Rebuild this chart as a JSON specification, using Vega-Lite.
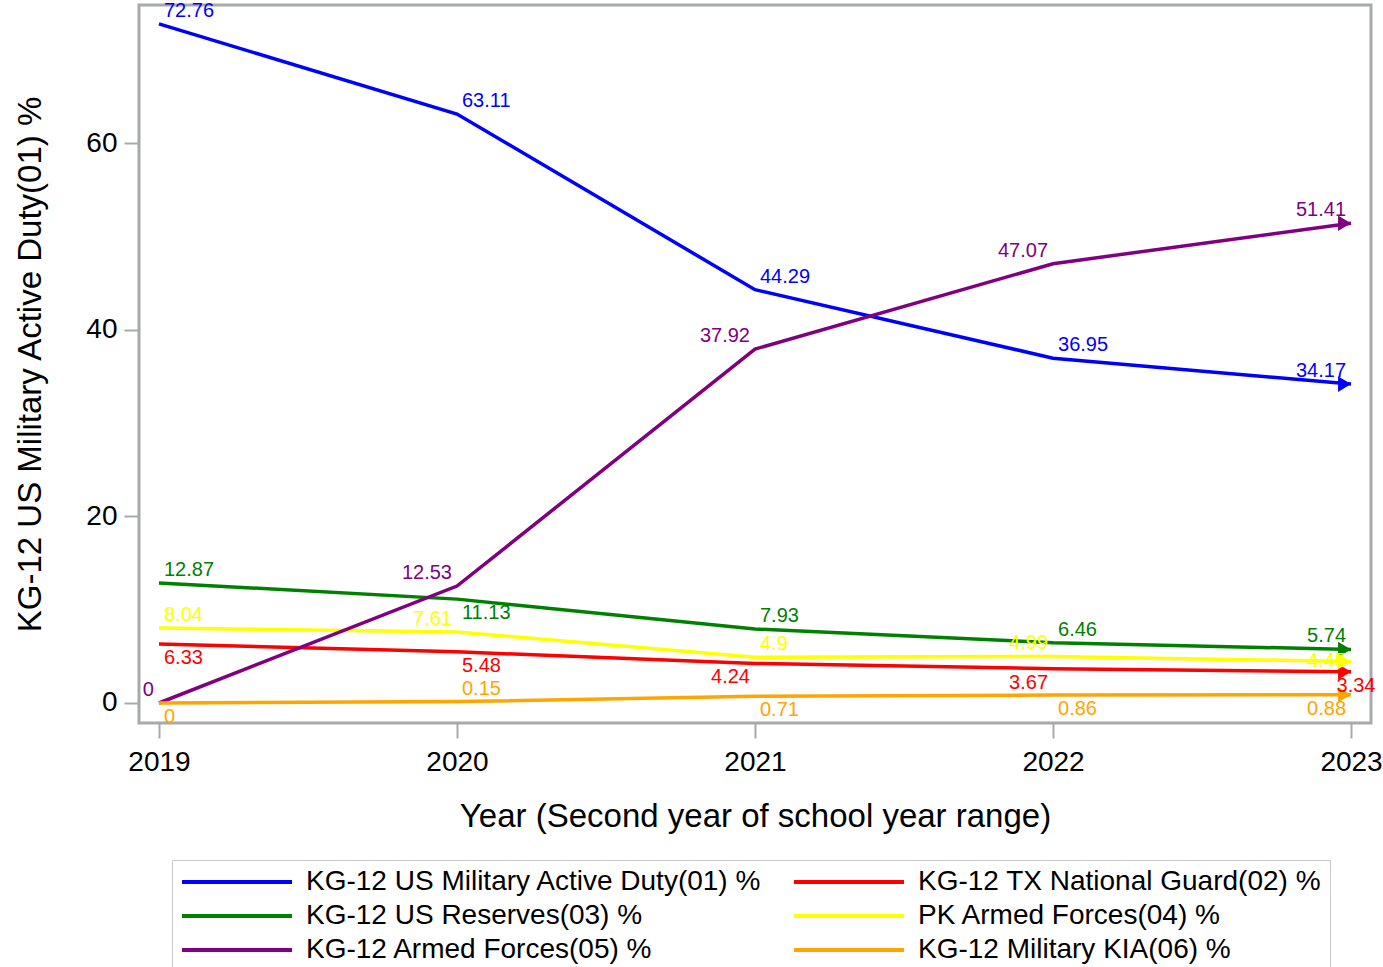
{
  "$schema": "https://vega.github.io/schema/vega-lite/v6.json",
  "width": 1232,
  "height": 718,
  "autosize": {"type": "none"},
  "padding": {"left": 139, "top": 5, "right": 12, "bottom": 244},
  "background": "white",
  "config": {
    "font": "Liberation Sans",
    "view": {"stroke": "#a6aaae", "strokeWidth": 3},
    "axis": {"domain": false, "grid": false, "tickColor": "#a6aaae", "tickWidth": 2, "tickSize": 15, "labelFontSize": 28, "labelColor": "#000000", "titleFontSize": 33, "titleFontWeight": "normal", "titleColor": "#000000", "labelFont": "Liberation Sans", "titleFont": "Liberation Sans"}
  },
  "data": {
    "values": [
      {"series": "KG-12 US Military Active Duty(01) %", "year": 2019, "value": 72.76},
      {"series": "KG-12 US Military Active Duty(01) %", "year": 2020, "value": 63.11},
      {"series": "KG-12 US Military Active Duty(01) %", "year": 2021, "value": 44.29},
      {"series": "KG-12 US Military Active Duty(01) %", "year": 2022, "value": 36.95},
      {"series": "KG-12 US Military Active Duty(01) %", "year": 2023, "value": 34.17},
      {"series": "KG-12 TX National Guard(02) %", "year": 2019, "value": 6.33},
      {"series": "KG-12 TX National Guard(02) %", "year": 2020, "value": 5.48},
      {"series": "KG-12 TX National Guard(02) %", "year": 2021, "value": 4.24},
      {"series": "KG-12 TX National Guard(02) %", "year": 2022, "value": 3.67},
      {"series": "KG-12 TX National Guard(02) %", "year": 2023, "value": 3.34},
      {"series": "KG-12 US Reserves(03) %", "year": 2019, "value": 12.87},
      {"series": "KG-12 US Reserves(03) %", "year": 2020, "value": 11.13},
      {"series": "KG-12 US Reserves(03) %", "year": 2021, "value": 7.93},
      {"series": "KG-12 US Reserves(03) %", "year": 2022, "value": 6.46},
      {"series": "KG-12 US Reserves(03) %", "year": 2023, "value": 5.74},
      {"series": "PK Armed Forces(04) %", "year": 2019, "value": 8.04},
      {"series": "PK Armed Forces(04) %", "year": 2020, "value": 7.61},
      {"series": "PK Armed Forces(04) %", "year": 2021, "value": 4.9},
      {"series": "PK Armed Forces(04) %", "year": 2022, "value": 4.99},
      {"series": "PK Armed Forces(04) %", "year": 2023, "value": 4.45},
      {"series": "KG-12 Armed Forces(05) %", "year": 2019, "value": 0},
      {"series": "KG-12 Armed Forces(05) %", "year": 2020, "value": 12.53},
      {"series": "KG-12 Armed Forces(05) %", "year": 2021, "value": 37.92},
      {"series": "KG-12 Armed Forces(05) %", "year": 2022, "value": 47.07},
      {"series": "KG-12 Armed Forces(05) %", "year": 2023, "value": 51.41},
      {"series": "KG-12 Military KIA(06) %", "year": 2019, "value": 0},
      {"series": "KG-12 Military KIA(06) %", "year": 2020, "value": 0.15},
      {"series": "KG-12 Military KIA(06) %", "year": 2021, "value": 0.71},
      {"series": "KG-12 Military KIA(06) %", "year": 2022, "value": 0.86},
      {"series": "KG-12 Military KIA(06) %", "year": 2023, "value": 0.88}
    ]
  },
  "encoding": {
    "x": {
      "field": "year", "type": "quantitative",
      "scale": {"domain": [2018.933, 2023.067], "nice": false, "zero": false},
      "axis": {"values": [2019, 2020, 2021, 2022, 2023], "format": "d", "labelPadding": 10, "title": "Year (Second year of school year range)", "titlePadding": 24}
    },
    "y": {
      "field": "value", "type": "quantitative",
      "scale": {"domain": [-2.143, 74.79], "nice": false, "zero": false},
      "axis": {"values": [0, 20, 40, 60], "labelPadding": 7, "title": "KG-12 US Military Active Duty(01) %", "titlePadding": 38}
    },
    "color": {
      "field": "series", "type": "nominal",
      "scale": {
        "domain": ["KG-12 US Military Active Duty(01) %", "KG-12 TX National Guard(02) %", "KG-12 US Reserves(03) %", "PK Armed Forces(04) %", "KG-12 Armed Forces(05) %", "KG-12 Military KIA(06) %"],
        "range": ["#0000FF", "#FF0000", "#008000", "#FFFF00", "#800080", "#FFA500"]
      },
      "legend": {
        "title": null, "orient": "none", "legendX": 33, "legendY": 855, "direction": "horizontal", "columns": 2,
        "symbolType": "M0,0H20", "symbolSize": 121, "symbolStrokeWidth": 4, "symbolOffset": -12,
        "labelFontSize": 28, "labelFont": "Liberation Sans", "labelColor": "#000000", "labelLimit": 700, "labelOffset": 110,
        "columnPadding": 24, "rowPadding": 6, "padding": 8, "strokeColor": "#c8c8c8", "fillColor": "white"
      }
    }
  },
  "layer": [
    {"mark": {"type": "line", "strokeWidth": 3.5}},
    {
      "transform": [{"filter": "datum.year == 2023"}],
      "mark": {"type": "point", "shape": "M0,0L-2,-1.2L-2,1.2Z", "filled": true, "opacity": 1, "size": 169, "strokeWidth": 0}
    },
    {
      "transform": [{"filter": "(indexof(datum.series,'(01)')>=0 && datum.year<2023) || (indexof(datum.series,'(03)')>=0 && (datum.year==2019 || datum.year==2021 || datum.year==2022)) || (indexof(datum.series,'(04)')>=0 && (datum.year==2019 || datum.year==2021)) || (indexof(datum.series,'(06)')>=0 && datum.year==2020)"}],
      "mark": {"type": "text", "fontSize": 20, "align": "left", "baseline": "alphabetic", "dx": 5, "dy": -7},
      "encoding": {"text": {"field": "value", "type": "quantitative"}}
    },
    {
      "transform": [{"filter": "(indexof(datum.series,'(01)')>=0 && datum.year==2023) || (indexof(datum.series,'(03)')>=0 && datum.year==2023) || (indexof(datum.series,'(04)')>=0 && (datum.year==2020 || datum.year==2022)) || indexof(datum.series,'(05)')>=0"}],
      "mark": {"type": "text", "fontSize": 20, "align": "right", "baseline": "alphabetic", "dx": -5, "dy": -7},
      "encoding": {"text": {"field": "value", "type": "quantitative"}}
    },
    {
      "transform": [{"filter": "(indexof(datum.series,'(03)')>=0 && datum.year==2020) || (indexof(datum.series,'(02)')>=0 && datum.year<=2020) || (indexof(datum.series,'(06)')>=0 && (datum.year==2019 || datum.year==2021 || datum.year==2022))"}],
      "mark": {"type": "text", "fontSize": 20, "align": "left", "baseline": "alphabetic", "dx": 5, "dy": 20},
      "encoding": {"text": {"field": "value", "type": "quantitative"}}
    },
    {
      "transform": [{"filter": "(indexof(datum.series,'(02)')>=0 && (datum.year==2021 || datum.year==2022)) || (indexof(datum.series,'(06)')>=0 && datum.year==2023)"}],
      "mark": {"type": "text", "fontSize": 20, "align": "right", "baseline": "alphabetic", "dx": -5, "dy": 20},
      "encoding": {"text": {"field": "value", "type": "quantitative"}}
    },
    {
      "transform": [{"filter": "indexof(datum.series,'(02)')>=0 && datum.year==2023"}],
      "mark": {"type": "text", "fontSize": 20, "align": "center", "baseline": "alphabetic", "dx": 5, "dy": 20},
      "encoding": {"text": {"field": "value", "type": "quantitative"}}
    },
    {
      "transform": [{"filter": "indexof(datum.series,'(04)')>=0 && datum.year==2023"}],
      "mark": {"type": "text", "fontSize": 20, "align": "right", "baseline": "middle", "dx": -5, "dy": 0},
      "encoding": {"text": {"field": "value", "type": "quantitative"}}
    }
  ]
}
